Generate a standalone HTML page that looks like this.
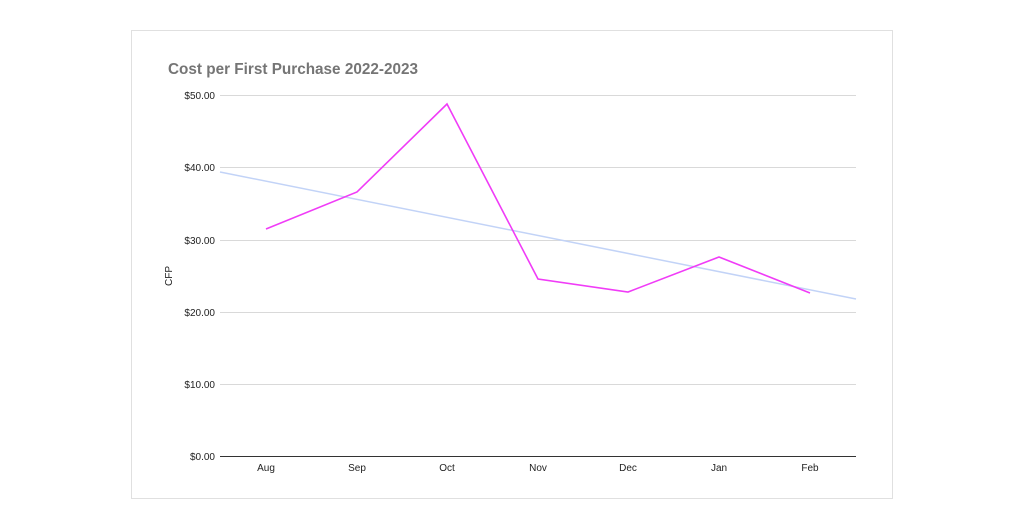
<!DOCTYPE html>
<html><head><style>
html,body{margin:0;padding:0;background:#fff;}
svg{display:block;font-family:"Liberation Sans",Arial,sans-serif;}
</style></head><body>
<svg width="1024" height="529" viewBox="0 0 1024 529">
<rect x="131.5" y="30.5" width="761" height="468" fill="#fff" stroke="#e0e0e0"/>
<text x="168" y="74" font-size="15.3" font-weight="bold" fill="#757575">Cost per First Purchase 2022-2023</text>
<g stroke="#d9d9d9" stroke-width="1">
<line x1="220" x2="856" y1="95.5" y2="95.5"/>
<line x1="220" x2="856" y1="167.5" y2="167.5"/>
<line x1="220" x2="856" y1="240.5" y2="240.5"/>
<line x1="220" x2="856" y1="312.5" y2="312.5"/>
<line x1="220" x2="856" y1="384.5" y2="384.5"/>
</g>
<line x1="220" x2="856" y1="456.5" y2="456.5" stroke="#333" stroke-width="1"/>
<g font-size="10" fill="#222" text-anchor="end">
<text x="215" y="99">$50.00</text>
<text x="215" y="171">$40.00</text>
<text x="215" y="244">$30.00</text>
<text x="215" y="316">$20.00</text>
<text x="215" y="388">$10.00</text>
<text x="215" y="460">$0.00</text>
</g>
<text transform="translate(172,276) rotate(-90)" font-size="10" fill="#222" text-anchor="middle">CFP</text>
<g font-size="10" fill="#222" text-anchor="middle">
<text x="266" y="471">Aug</text>
<text x="357" y="471">Sep</text>
<text x="447" y="471">Oct</text>
<text x="538" y="471">Nov</text>
<text x="628" y="471">Dec</text>
<text x="719" y="471">Jan</text>
<text x="810" y="471">Feb</text>
</g>
<line x1="220" y1="172" x2="856" y2="299" stroke="#c2d3f7" stroke-width="1.5"/>
<polyline fill="none" stroke="#f03cf7" stroke-width="1.6" points="266,229 357,192 447,104 538,279 628,292 719,257 810,293"/>
</svg>
</body></html>
